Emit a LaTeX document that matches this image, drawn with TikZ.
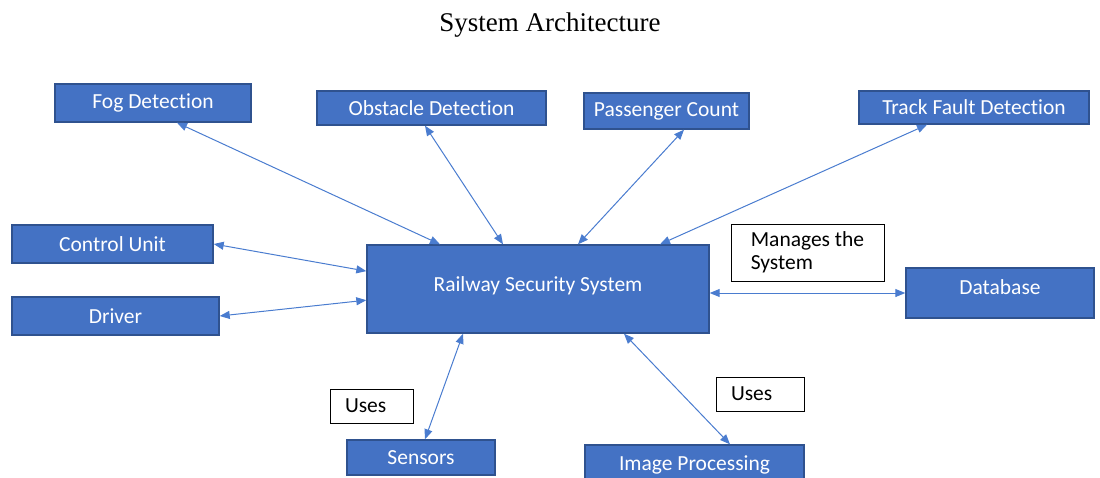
\documentclass[tikz,border=0pt]{standalone}
\usepackage{fontspec}
\setmainfont{Liberation Serif}
\newfontfamily\carl[Ligatures=NoCommon]{Carlito}
\usetikzlibrary{arrows.meta,calc}
\definecolor{boxfill}{HTML}{4472C4}
\definecolor{boxline}{HTML}{2F528F}
\definecolor{arrowc}{HTML}{4A7CCF}
\tikzset{
  bluebox/.style={draw=boxline, line width=1.4pt, fill=boxfill, text=white, font=\carl\fontsize{21.5}{24}\selectfont, inner sep=0pt},
  whitebox/.style={draw=black, line width=1pt, fill=white, text=black, font=\carl\fontsize{21.5}{22.5}\selectfont, inner sep=0pt},
  link/.style={draw=arrowc, line width=1pt, {Triangle[length=10pt,width=8pt]}-{Triangle[length=10pt,width=8pt]}}
}
\begin{document}
\begin{tikzpicture}[x=1pt,y=-1pt]
\useasboundingbox (0,0) rectangle (1100,477);
\clip (0,0) rectangle (1100,477);
\node[font=\fontsize{27}{30}\selectfont, anchor=base] (title) at (550,31) {System Architecture};

\node[bluebox, minimum width=196pt, minimum height=38pt] (fog) at (153,103) {Fog Detection};
\node[bluebox, minimum width=229pt, minimum height=34pt] (obst) at (431.5,108) {Obstacle Detection};
\node[bluebox, minimum width=165pt, minimum height=36pt] (pass) at (666.5,111) {Passenger Count};
\node[bluebox, minimum width=230pt, minimum height=33pt] (track) at (974,107.5) {Track Fault Detection};
\node[bluebox, minimum width=201pt, minimum height=38pt] (ctrl) at (112.5,244) {Control Unit};
\node[bluebox, minimum width=207pt, minimum height=38pt] (driver) at (115.5,316) {Driver};
\node[bluebox, minimum width=342pt, minimum height=88pt] (rss) at (538,289) {\raisebox{10pt}{Railway Security System}};
\node[bluebox, minimum width=188pt, minimum height=50pt] (db) at (1000,293) {\raisebox{12pt}{Database}};
\node[bluebox, minimum width=148pt, minimum height=35pt] (sensors) at (421,457.5) {Sensors};
\node[bluebox, minimum width=219pt, minimum height=40pt] (imgp) at (694.5,465) {\raisebox{4pt}{Image Processing}};

\node[whitebox, minimum width=153pt, minimum height=57pt, align=left] (manage) at (807.5,252.5) {Manages the\\System};
\node[whitebox, text width=53pt, inner xsep=15pt, minimum height=34pt, align=left] (uses1) at (371.5,406) {Uses};
\node[whitebox, text width=58pt, inner xsep=15pt, minimum height=34pt, align=left] (uses2) at (760,394) {Uses};

\draw[link] ([xshift=24pt]fog.south) -- ([xshift=-98pt]rss.north);
\draw[link] ([xshift=-6.5pt]obst.south) -- ([xshift=-35pt]rss.north);
\draw[link] ([xshift=17.5pt]pass.south) -- ([xshift=40pt]rss.north);
\draw[link] ([xshift=-47pt]track.south) -- ([xshift=122pt]rss.north);
\draw[link] (ctrl.east) -- ($(rss.north west)!0.3!(rss.south west)$);
\draw[link] (driver.east) -- ($(rss.north west)!0.625!(rss.south west)$);
\draw[link] (db.west -| rss.east) -- (db.west);
\draw[link] ([xshift=-75pt]rss.south) -- ([xshift=4pt]sensors.north);
\draw[link] ([xshift=86pt]rss.south) -- ([xshift=35.5pt]imgp.north);
\end{tikzpicture}
\end{document}
